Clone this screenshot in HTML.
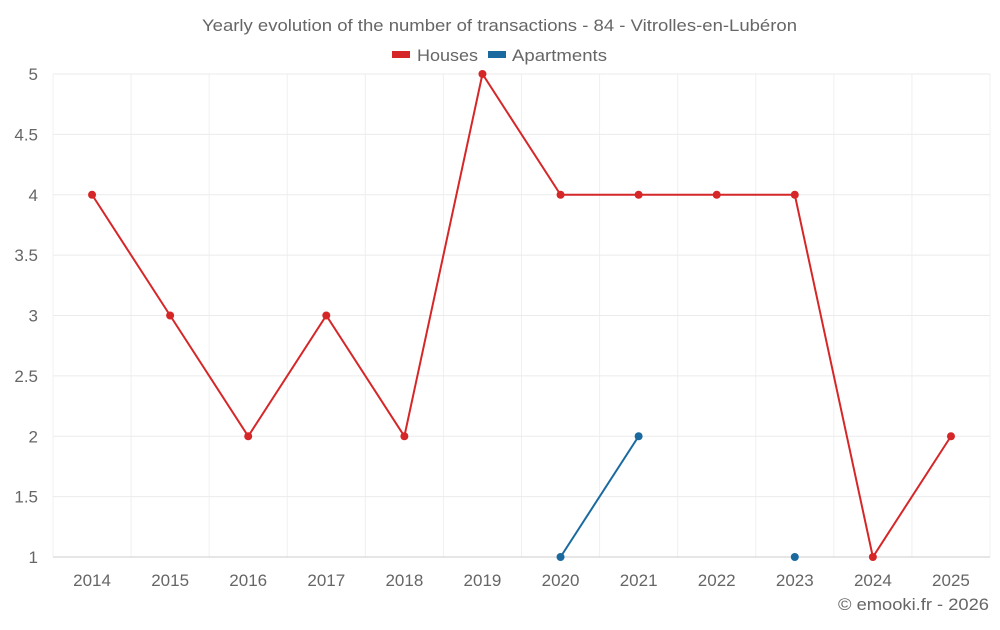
<!DOCTYPE html>
<html><head><meta charset="utf-8"><style>
body{margin:0;background:#fff;font-family:"Liberation Sans",sans-serif}
svg text{font-family:"Liberation Sans",sans-serif;fill:#666}
</style></head><body>
<svg id="chart" width="1000" height="625" viewBox="0 0 1000 625">
<text x="202" y="31" font-size="17" textLength="595" lengthAdjust="spacingAndGlyphs">Yearly evolution of the number of transactions - 84 - Vitrolles-en-Lubéron</text>
<g>
<g><rect x="392" y="51" width="18" height="7" fill="#d62728"/><text x="417" y="61" font-size="17" textLength="61" lengthAdjust="spacingAndGlyphs">Houses</text></g>
<g><rect x="488" y="51" width="18" height="7" fill="#1a6aa0"/><text x="512" y="61" font-size="17" textLength="95" lengthAdjust="spacingAndGlyphs">Apartments</text></g>
</g>
<g id="grid"></g>
<g id="axes"></g>
<g id="series"></g>
<text x="838" y="610" font-size="17" textLength="151" lengthAdjust="spacingAndGlyphs">© emooki.fr - 2026</text>
</svg>
<script>
const categories=["2014","2015","2016","2017","2018","2019","2020","2021","2022","2023","2024","2025"];
const houses=[4,3,2,3,2,5,4,4,4,4,1,2];
const apartments=[null,null,null,null,null,null,1,2,null,1,null,null];
const yTicks=[1,1.5,2,2.5,3,3.5,4,4.5,5];
const L=53,R=990,T=74,B=557,yMin=1,yMax=5;
const bw=(R-L)/categories.length;
const x=i=>L+bw*(i+0.5);
const y=v=>B-(v-yMin)/(yMax-yMin)*(B-T);
const NS="http://www.w3.org/2000/svg";
function mk(tag,parent,attrs){const e=document.createElementNS(NS,tag);for(const k in attrs)e.setAttribute(k,attrs[k]);parent.appendChild(e);return e;}
const grid=document.getElementById('grid'),axes=document.getElementById('axes'),series=document.getElementById('series');
for(let i=0;i<=categories.length;i++){
 const l=mk('line',grid,{x1:L+bw*i,x2:L+bw*i,y1:T,y2:B,stroke:'#f0f0f0'});
 
 
}
yTicks.forEach(t=>{
 const l=mk('line',grid,{x1:L,x2:R,y1:y(t),y2:y(t),stroke:t===yMin?'#ccc':'#ebebeb'});
 
 
 const tx=mk('text',axes,{x:38,y:y(t)+6,'text-anchor':'end','font-size':17});
 tx.textContent=t;
 
 
});
categories.forEach((c,i)=>{
 const tx=mk('text',axes,{x:x(i),y:586,'text-anchor':'middle','font-size':17});
 tx.textContent=c;
 
 
});
function draw(vals,color,name){
 let segs=[],cur=[];
 vals.forEach((v,i)=>{if(v==null){if(cur.length)segs.push(cur);cur=[];}else cur.push([x(i),y(v)]);});
 if(cur.length)segs.push(cur);
 segs.forEach(s=>{if(s.length>1){const p=mk('polyline',series,{points:s.map(q=>q.join(',')).join(' '),fill:'none',stroke:color,'stroke-width':2});
  
  }});
 vals.forEach((v,i)=>{if(v==null)return;const c=mk('circle',series,{cx:x(i),cy:y(v),r:4,fill:color});
  
  });
}
draw(houses,'#d62728','houses');
draw(apartments,'#1a6aa0','apartments');
</script>
</body></html>
